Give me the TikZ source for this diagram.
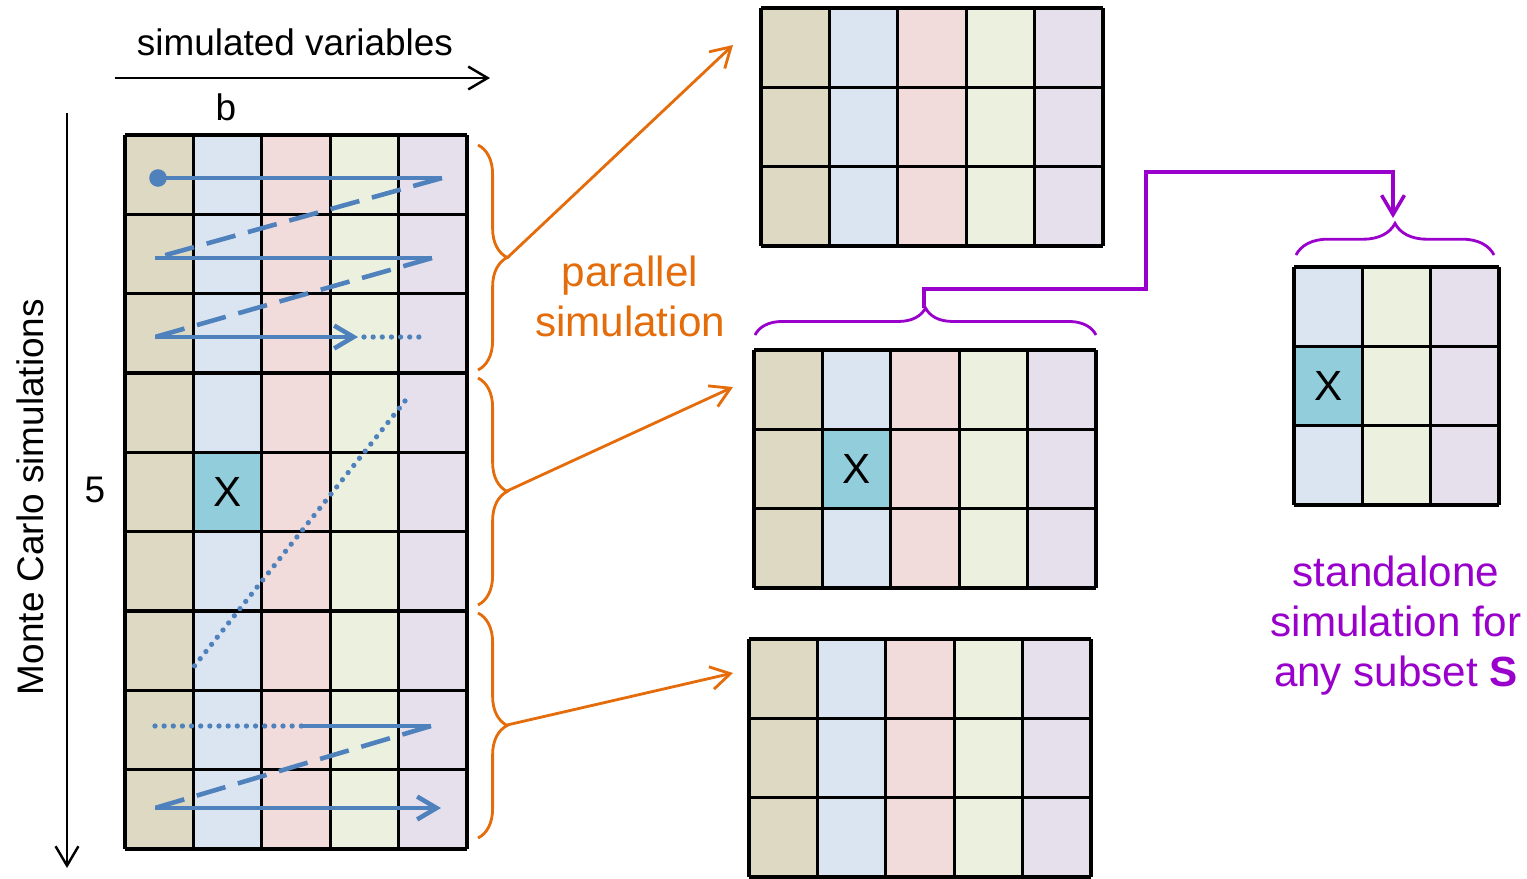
\documentclass[tikz,border=0pt]{standalone}
\usepackage{fontspec}
\setmainfont{Liberation Sans}
\usetikzlibrary{arrows.meta, decorations.pathreplacing}

\definecolor{coltan}{HTML}{DDD9C3}
\definecolor{colblue}{HTML}{DBE5F1}
\definecolor{colpink}{HTML}{F2DCDB}
\definecolor{colgreen}{HTML}{EBF1DE}
\definecolor{collav}{HTML}{E5E0EC}
\definecolor{colx}{HTML}{92CDDC}
\definecolor{trailblue}{HTML}{4F81BD}
\definecolor{parorange}{HTML}{E46C0A}
\definecolor{subpurple}{HTML}{9900CC}

\tikzset{
  cellline/.style = {black, line width=0.9pt},
  trail/.style = {trailblue, line width=1.3pt},
  trailback/.style = {trail, dash pattern=on 8.5pt off 3.7pt},
  trailskip/.style = {trailblue, line width=1.5pt, line cap=round, dash pattern=on 0pt off 2.6pt},
  barb/.style = {-{Straight Barb[length=5.5pt, width=6.5pt]}},
  axis/.style = {black, line width=0.7pt, barb},
  orangebrace/.style = {parorange, line width=0.8pt, decorate, decoration={brace, amplitude=#1}},
  purplebrace/.style = {subpurple, line width=0.8pt, decorate, decoration={brace, amplitude=#1}},
  fanarrow/.style = {parorange, line width=0.8pt, barb},
  subsetline/.style = {subpurple, line width=1pt, barb},
  lbl/.style = {font=\fontsize{10.5}{12.6}\selectfont, inner sep=0pt},
  biglbl/.style = {font=\fontsize{12}{14.2}\selectfont, inner sep=0pt, align=center}
}

\begin{document}
\begin{tikzpicture}[x=0.01cm, y=-0.01cm]

\useasboundingbox (0,0) rectangle (1527,878);

% axes
\draw[axis] (115,78) -- (490,78);
\draw[axis] (67,113) -- (67,868);
\node[lbl] (simvars) at (295,42) {simulated variables};
\node[lbl] (bsize) at (226,107) {b};
\node[lbl, rotate=90] (mcsims) at (30,497) {Monte Carlo simulations};
\node[lbl] (five) at (95,490) {5};

% full table
\fill[coltan]   (125,135) rectangle (193.4,849);
\fill[colblue]  (193.4,135) rectangle (261.8,849);
\fill[colpink]  (261.8,135) rectangle (330.2,849);
\fill[colgreen] (330.2,135) rectangle (398.6,849);
\fill[collav]   (398.6,135) rectangle (467,849);
\fill[colx]     (193.4,452.3) rectangle (261.8,531.7);

\draw[cellline] (125,135)   -- (467,135);
\draw[cellline] (125,214.3) -- (467,214.3);
\draw[cellline] (125,293.7) -- (467,293.7);
\draw[cellline] (125,373)   -- (467,373);
\draw[cellline] (125,452.3) -- (467,452.3);
\draw[cellline] (125,531.7) -- (467,531.7);
\draw[cellline] (125,611)   -- (467,611);
\draw[cellline] (125,690.3) -- (467,690.3);
\draw[cellline] (125,769.7) -- (467,769.7);
\draw[cellline] (125,849)   -- (467,849);
\draw[cellline] (125,135)   -- (125,849);
\draw[cellline] (193.4,135) -- (193.4,849);
\draw[cellline] (261.8,135) -- (261.8,849);
\draw[cellline] (330.2,135) -- (330.2,849);
\draw[cellline] (398.6,135) -- (398.6,849);
\draw[cellline] (467,135)   -- (467,849);
\node[biglbl] (xmain) at (227.6,492) {X};

% simulation order
\fill[trailblue] (158,178) circle (2.5pt);
\draw[trail] (158,178) -- (442,178);
\draw[trailback] (442,178) -- (155,258);
\draw[trail] (155,258) -- (432,258);
\draw[trailback] (432,258) -- (155,337);
\draw[trail, barb] (155,337) -- (358,337);
\draw[trailskip] (364,337) -- (424,337);
\draw[trailskip] (405,401) -- (192,669);
\draw[trailskip] (155,726) -- (303,726);
\draw[trail] (303,726) -- (431,726);
\draw[trailback] (431,726) -- (155,808);
\draw[trail, barb] (155,808) -- (441,808);

% blocks
\draw[orangebrace=8.3pt] (478,145) -- (478,370);
\draw[orangebrace=8.3pt] (478,378) -- (478,605);
\draw[orangebrace=8.3pt] (478,613) -- (478,838);
\coordinate (tipA) at (507,258);
\coordinate (tipB) at (507,491);
\coordinate (tipC) at (507,725);
\coordinate (toA) at (733,45);
\coordinate (toB) at (733,387);
\coordinate (toC) at (733,673);
\draw[fanarrow] (tipA) -- (toA);
\draw[fanarrow] (tipB) -- (toB);
\draw[fanarrow] (tipC) -- (toC);
\node[biglbl, text=parorange] (parallel) at (630,296) {parallel\\simulation};

% block A
\fill[coltan]   (761,8) rectangle (829.4,246);
\fill[colblue]  (829.4,8) rectangle (897.8,246);
\fill[colpink]  (897.8,8) rectangle (966.2,246);
\fill[colgreen] (966.2,8) rectangle (1034.6,246);
\fill[collav]   (1034.6,8) rectangle (1103,246);
\draw[cellline] (761,8)     -- (1103,8);
\draw[cellline] (761,87.3)  -- (1103,87.3);
\draw[cellline] (761,166.7) -- (1103,166.7);
\draw[cellline] (761,246)   -- (1103,246);
\draw[cellline] (761,8)     -- (761,246);
\draw[cellline] (829.4,8)   -- (829.4,246);
\draw[cellline] (897.8,8)   -- (897.8,246);
\draw[cellline] (966.2,8)   -- (966.2,246);
\draw[cellline] (1034.6,8)  -- (1034.6,246);
\draw[cellline] (1103,8)    -- (1103,246);

% block B
\fill[coltan]   (754,350) rectangle (822.4,588);
\fill[colblue]  (822.4,350) rectangle (890.8,588);
\fill[colpink]  (890.8,350) rectangle (959.2,588);
\fill[colgreen] (959.2,350) rectangle (1027.6,588);
\fill[collav]   (1027.6,350) rectangle (1096,588);
\fill[colx]     (822.4,429.3) rectangle (890.8,508.7);
\draw[cellline] (754,350)   -- (1096,350);
\draw[cellline] (754,429.3) -- (1096,429.3);
\draw[cellline] (754,508.7) -- (1096,508.7);
\draw[cellline] (754,588)   -- (1096,588);
\draw[cellline] (754,350)   -- (754,588);
\draw[cellline] (822.4,350) -- (822.4,588);
\draw[cellline] (890.8,350) -- (890.8,588);
\draw[cellline] (959.2,350) -- (959.2,588);
\draw[cellline] (1027.6,350) -- (1027.6,588);
\draw[cellline] (1096,350)  -- (1096,588);
\node[biglbl] (xblock) at (856.6,469) {X};

% block C
\fill[coltan]   (749,639) rectangle (817.4,877);
\fill[colblue]  (817.4,639) rectangle (885.8,877);
\fill[colpink]  (885.8,639) rectangle (954.2,877);
\fill[colgreen] (954.2,639) rectangle (1022.6,877);
\fill[collav]   (1022.6,639) rectangle (1091,877);
\draw[cellline] (749,639)   -- (1091,639);
\draw[cellline] (749,718.3) -- (1091,718.3);
\draw[cellline] (749,797.7) -- (1091,797.7);
\draw[cellline] (749,877)   -- (1091,877);
\draw[cellline] (749,639)   -- (749,877);
\draw[cellline] (817.4,639) -- (817.4,877);
\draw[cellline] (885.8,639) -- (885.8,877);
\draw[cellline] (954.2,639) -- (954.2,877);
\draw[cellline] (1022.6,639) -- (1022.6,877);
\draw[cellline] (1091,639)  -- (1091,877);

% subset S
\fill[colblue]  (1294,267) rectangle (1362.4,505);
\fill[colgreen] (1362.4,267) rectangle (1430.8,505);
\fill[collav]   (1430.8,267) rectangle (1499,505);
\fill[colx]     (1294,346.3) rectangle (1362.4,425.7);
\draw[cellline] (1294,267)   -- (1499,267);
\draw[cellline] (1294,346.3) -- (1499,346.3);
\draw[cellline] (1294,425.7) -- (1499,425.7);
\draw[cellline] (1294,505)   -- (1499,505);
\draw[cellline] (1294,267)   -- (1294,505);
\draw[cellline] (1362.4,267) -- (1362.4,505);
\draw[cellline] (1430.8,267) -- (1430.8,505);
\draw[cellline] (1499,267)   -- (1499,505);
\node[biglbl] (xsubset) at (1328.2,386) {X};

\draw[purplebrace=7.7pt] (755,335) -- (1096,335);
\draw[purplebrace=9pt] (1296,255) -- (1494,255);
\coordinate (subB) at (924,308);
\coordinate (subS) at (1393,218);
\draw[subsetline] (subB) |- (1146,289) |- (1393,172) -- (subS);
\node[biglbl, text=subpurple] (standalone) at (1396,626) {standalone\\simulation for\\any subset \textbf{S}};

\end{tikzpicture}
\end{document}
